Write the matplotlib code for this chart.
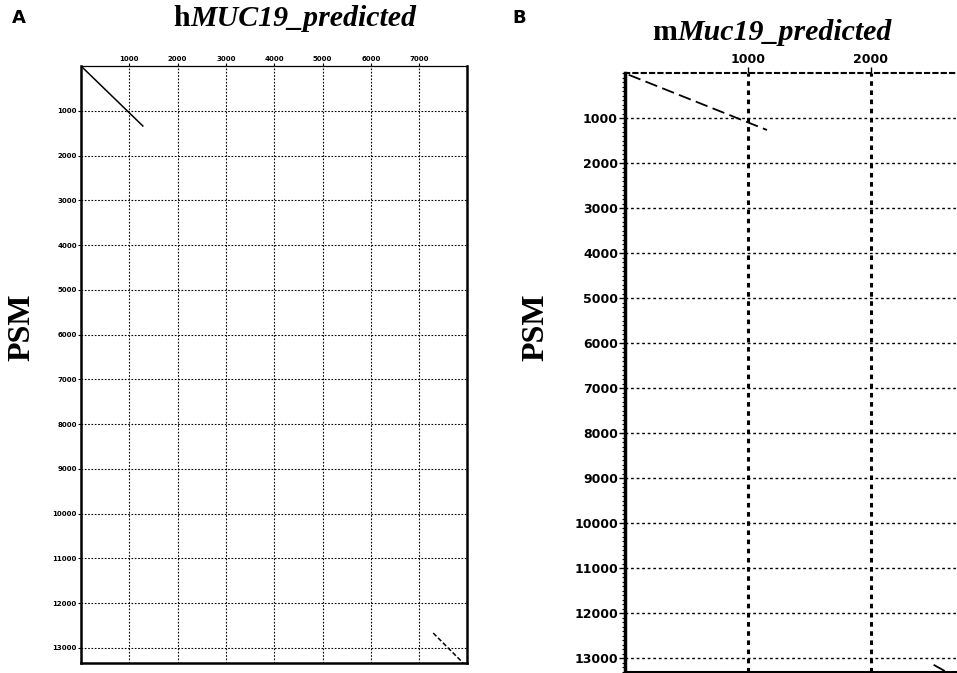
import matplotlib.pyplot as plt
from matplotlib.ticker import MultipleLocator

# panel A: human MUC19 vs PSM dot-plot
a_xticks = [1000, 2000, 3000, 4000, 5000, 6000, 7000]
a_yticks = list(range(1000, 14000, 1000))
a_diag1_x = [0, 1280]
a_diag1_y = [0, 1340]
a_diag2_x = [7290, 7910]
a_diag2_y = [12670, 13340]

# panel B: mouse Muc19 vs PSM dot-plot
b_xticks = [1000, 2000]
b_yticks = list(range(1000, 14000, 1000))
b_diag1_x = [30, 1155]
b_diag1_y = [40, 1267]
b_diag2_x = [2510, 2700]
b_diag2_y = [13150, 13440]

fig = plt.figure(figsize=(9.57, 6.73), dpi=100)
serif = 'Liberation Serif'

# ---- panel A
ax1 = fig.add_axes([81 / 957, 1 - 663 / 673, (467 - 81) / 957, (663 - 66) / 673])
ax1.set_xlim(0, 7990)
ax1.set_ylim(13340, 0)
ax1.plot(a_diag1_x, a_diag1_y, color='black', lw=1.1)
ax1.plot(a_diag2_x, a_diag2_y, color='black', lw=1.1, ls=(0, (3, 1.5)))
ax1.xaxis.tick_top()
ax1.set_xticks(a_xticks)
ax1.set_yticks(a_yticks)
ax1.tick_params(length=2, width=0.8, labelsize=5, pad=1)
for lab in ax1.get_xticklabels() + ax1.get_yticklabels():
    lab.set_fontweight('bold')
ax1.grid(True, color='black', ls=(0, (1.5, 1.5)), lw=0.8)
for side in ['left', 'bottom', 'right']:
    ax1.spines[side].set_linewidth(1.8)
ax1.spines['top'].set_linewidth(0.9)

# ---- panel B
ax2 = fig.add_axes([625 / 957, 1 - 672 / 673, (957 - 625) / 957, (672 - 73) / 673])
ax2.set_xlim(0, 2700)
ax2.set_ylim(13310, 0)
ax2.plot(b_diag1_x, b_diag1_y, color='black', lw=1.3, ls=(0, (7, 3)))
ax2.plot(b_diag2_x, b_diag2_y, color='black', lw=1.3, ls=(0, (7, 3)))
ax2.xaxis.tick_top()
ax2.set_xticks(b_xticks)
ax2.set_yticks(b_yticks)
ax2.yaxis.set_minor_locator(MultipleLocator(100))
ax2.tick_params(which='major', length=4, width=1.0, labelsize=9, pad=1)
ax2.tick_params(which='minor', axis='y', length=2, width=0.8)
for lab in ax2.get_xticklabels() + ax2.get_yticklabels():
    lab.set_fontweight('bold')
ax2.grid(True, axis='y', color='black', ls=(0, (2, 2)), lw=1.0)
ax2.grid(True, axis='x', color='black', ls=(0, (1.5, 1.5)), lw=2.2)
ax2.spines['left'].set_linewidth(2.5)
ax2.spines['bottom'].set_linewidth(1.5)
ax2.spines['right'].set_visible(False)
ax2.spines['top'].set_linestyle((0, (2, 2)))
ax2.spines['top'].set_linewidth(1.5)

# ---- titles and labels
fig.text(190 / 957, 1 - 18 / 673, 'h', family=serif, weight='bold',
         fontsize=21.5, ha='right', va='center')
fig.text(190 / 957, 1 - 18 / 673, 'MUC19_predicted', family=serif, weight='bold',
         style='italic', fontsize=21.5, ha='left', va='center')
fig.text(677 / 957, 1 - 33 / 673, 'm', family=serif, weight='bold',
         fontsize=21.5, ha='right', va='center')
fig.text(677 / 957, 1 - 33 / 673, 'Muc19_predicted', family=serif, weight='bold',
         style='italic', fontsize=21.5, ha='left', va='center')

fig.text(12 / 957, 1 - 18 / 673, 'A', weight='bold', fontsize=13, ha='left', va='center')
fig.text(512 / 957, 1 - 18 / 673, 'B', weight='bold', fontsize=13, ha='left', va='center')

fig.text(22 / 957, 1 - 327 / 673, 'PSM', family=serif, weight='bold',
         fontsize=23, rotation=90, ha='center', va='center')
fig.text(536 / 957, 1 - 327 / 673, 'PSM', family=serif, weight='bold',
         fontsize=23, rotation=90, ha='center', va='center')

fig.savefig('out.png', dpi=100)
